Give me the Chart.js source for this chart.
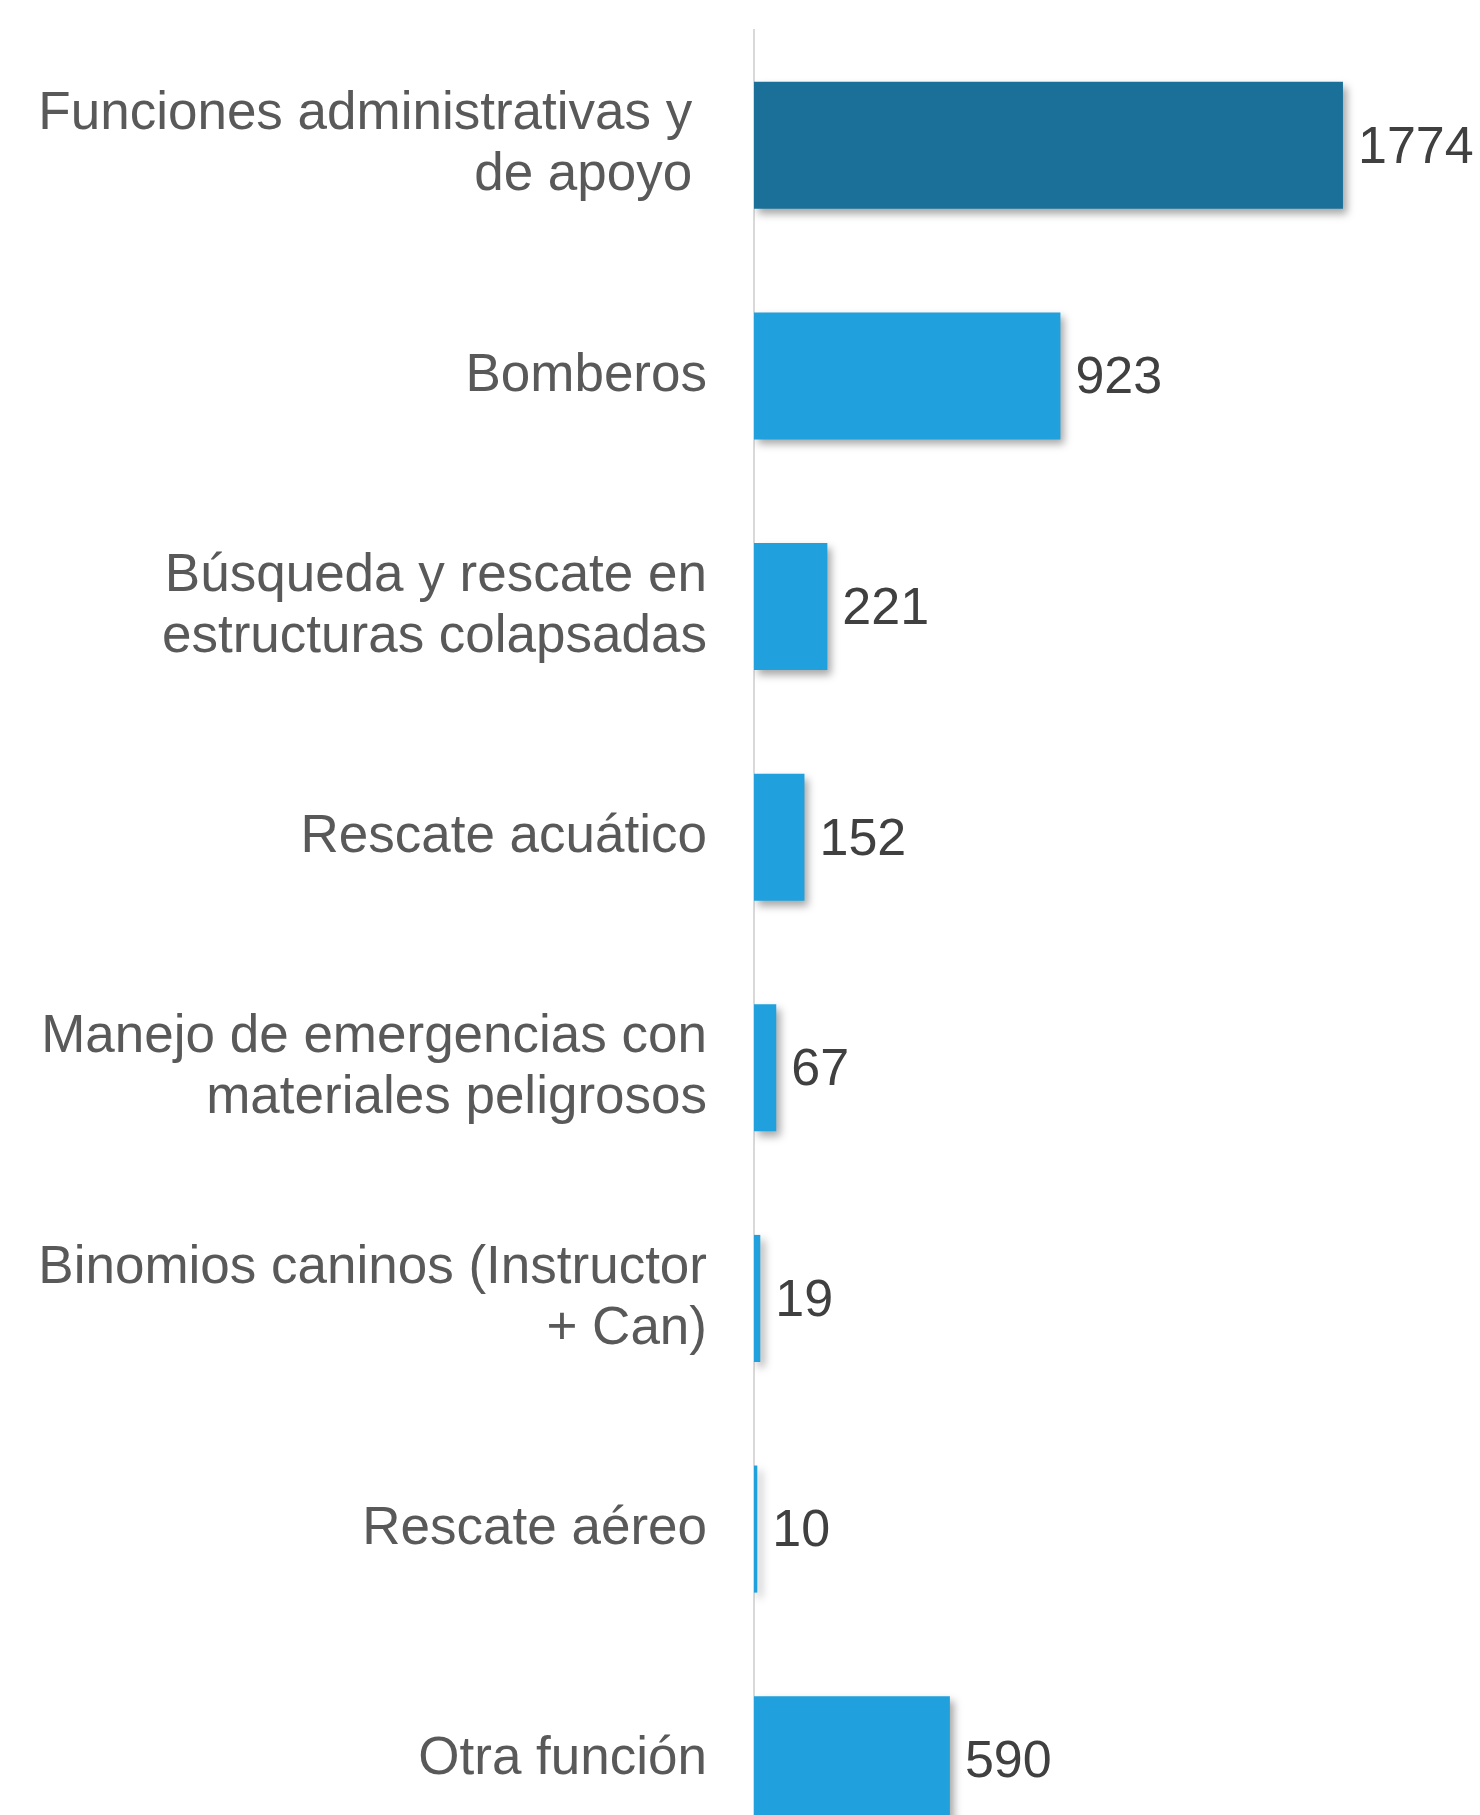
<!DOCTYPE html>
<html>
<head>
<meta charset="utf-8">
<script src="https://cdn.jsdelivr.net/npm/chart.js@4"></script>
<style>
  html, body { margin: 0; padding: 0; background: #fff; overflow: hidden; }
  canvas { display: block; }
</style>
</head>
<body>
<canvas id="myChart" width="1480" height="1900"></canvas>
<script>
'use strict';

// categories (multi-line, as wrapped in the original)
let categories = [
  ['Funciones administrativas y ', 'de apoyo '],
  'Bomberos',
  ['Búsqueda y rescate en', 'estructuras colapsadas'],
  'Rescate acuático',
  ['Manejo de emergencias con', 'materiales peligrosos'],
  ['Binomios caninos (Instructor', '+ Can)'],
  'Rescate aéreo',
  'Otra función'
];
let personas = [1774, 923, 221, 152, 67, 19, 10, 590];
let barColors = ['#1a7099', '#20a0dc', '#20a0dc', '#20a0dc', '#20a0dc', '#20a0dc', '#20a0dc', '#20a0dc'];

const FONT = '"Liberation Sans", Arial, sans-serif';

// drop shadow under the bars, like the office chart
const barShadow = {
  id: 'barShadow',
  beforeDatasetsDraw(chart){
    let ctx = chart.ctx;
    ctx.save();
    ctx.shadowColor = 'rgba(0,0,0,0.35)';
    ctx.shadowOffsetX = 4;
    ctx.shadowOffsetY = 5;
    ctx.shadowBlur = 8;
  },
  afterDatasetsDraw(chart){
    chart.ctx.restore();
  }
};

// value labels at the end of each bar
const valueLabels = {
  id: 'valueLabels',
  afterDraw(chart){
    let ctx = chart.ctx;
    let meta = chart.getDatasetMeta(0);
    ctx.save();
    ctx.font = '52px ' + FONT;
    ctx.fillStyle = '#404040';
    ctx.textAlign = 'left';
    ctx.textBaseline = 'middle';
    meta.data.forEach(function(bar, i){
      ctx.fillText(String(personas[i]), bar.x + 15, bar.y + 3);
    });
    ctx.restore();
  }
};

const ctx = document.getElementById('myChart');

new Chart(ctx, {
  type: 'bar',
  data: {
    labels: categories,
    datasets: [{
      label: 'Personas',
      data: personas,
      backgroundColor: barColors,
      borderWidth: 0,
      barPercentage: 0.551,
      categoryPercentage: 1
    }]
  },
  options: {
    indexAxis: 'y',
    responsive: false,
    animation: false,
    layout: { padding: { top: 30, bottom: 25, left: 0, right: 62 } },
    plugins: {
      legend: { display: false },
      tooltip: { enabled: false }
    },
    scales: {
      x: {
        display: false,
        min: 0,
        max: 2000
      },
      y: {
        afterFit(scale){
          scale.width = 754;
          scale.paddingTop = 0;
          scale.paddingBottom = 0;
        },
        grid: { display: false, drawTicks: false },
        border: { display: true, color: '#d9d9d9', width: 2 },
        ticks: {
          color: '#595959',
          padding: 47,
          font: { family: FONT, size: 53, lineHeight: 1.15 }
        }
      }
    }
  },
  plugins: [barShadow, valueLabels]
});
</script>
</body>
</html>
